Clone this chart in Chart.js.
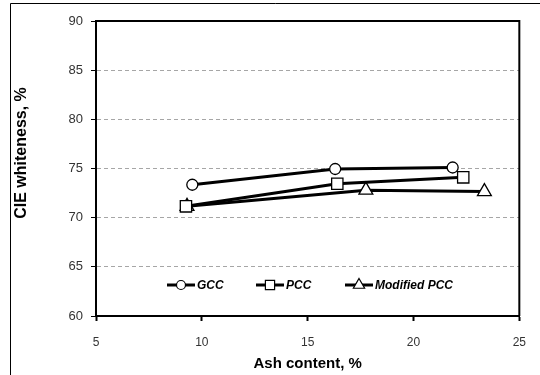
<!DOCTYPE html>
<html>
<head>
<meta charset="utf-8">
<script src="https://cdn.jsdelivr.net/npm/chart.js@4"></script>
<style>
  html, body { margin: 0; padding: 0; background: #fff; }
  #wrap { width: 540px; height: 375px; position: relative; }
</style>
</head>
<body>
<div id="wrap"><canvas id="chart"></canvas></div>
<script>
// Data
const seriesNames = ['GCC', 'PCC', 'Modified PCC'];
const gccAsh = [9.55, 16.3, 21.85];
const gccWhite = [73.35, 74.95, 75.1];
const pccAsh = [9.25, 16.4, 22.35];
const pccWhite = [71.15, 73.45, 74.1];
const modAsh = [9.3, 17.75, 23.35];
const modWhite = [71.15, 72.8, 72.65];
const xTicks = [5, 10, 15, 20, 25];
const yTicks = [60, 65, 70, 75, 80, 85, 90];
const xTitle = 'Ash content, %';
const yTitle = 'CIE whiteness, %';

const toPoints = (xs, ys) => xs.map((x, i) => ({ x, y: ys[i] }));

const markers = [
  { style: 'circle', radius: 5.5, legendRadius: 4.5 },
  { style: 'rect', radius: 8, legendRadius: 6.5 },
  { style: 'triangle', radius: 8, legendRadius: 6.5 },
];

const makeDataset = (label, pts, m) => ({
  label,
  data: pts,
  borderColor: '#000',
  borderWidth: 3,
  backgroundColor: '#fff',
  pointStyle: m.style,
  pointRadius: m.radius,
  pointBorderWidth: 1.3,
  pointBorderColor: '#000',
  pointBackgroundColor: '#fff',
  tension: 0,
});

// frame, plot box, y title and in-plot legend
const decorations = {
  id: 'decorations',
  beforeDraw(chart) {
    const { ctx } = chart;
    ctx.save();
    ctx.fillStyle = '#fff';
    ctx.fillRect(0, 0, chart.width, chart.height);
    ctx.strokeStyle = '#000';
    ctx.lineWidth = 1;
    ctx.beginPath();
    ctx.moveTo(10.5, chart.height);
    ctx.lineTo(10.5, 3.5);
    ctx.lineTo(chart.width, 3.5);
    ctx.stroke();
    ctx.restore();
  },
  afterDraw(chart) {
    const { ctx, chartArea: a } = chart;
    ctx.save();
    // top and right edges of plot box
    ctx.strokeStyle = '#000';
    ctx.lineWidth = 2;
    ctx.beginPath();
    ctx.moveTo(a.left, a.top);
    ctx.lineTo(a.right, a.top);
    ctx.lineTo(a.right, a.bottom);
    ctx.stroke();

    // y axis title
    ctx.translate(22, 153);
    ctx.rotate(-Math.PI / 2);
    ctx.fillStyle = '#000';
    ctx.font = 'bold 16px "Liberation Sans", Arial, sans-serif';
    ctx.textAlign = 'center';
    ctx.textBaseline = 'middle';
    ctx.fillText(yTitle, 0, 0);
    ctx.restore();

    // legend inside the plot
    const legendY = 285;
    const starts = [167, 256, 345];
    ctx.save();
    ctx.font = 'italic bold 12px "Liberation Sans", Arial, sans-serif';
    ctx.textBaseline = 'middle';
    ctx.textAlign = 'left';
    chart.data.datasets.forEach((ds, i) => {
      const x0 = starts[i];
      ctx.strokeStyle = '#000';
      ctx.lineWidth = 3;
      ctx.beginPath();
      ctx.moveTo(x0, legendY);
      ctx.lineTo(x0 + 28, legendY);
      ctx.stroke();
      ctx.fillStyle = '#fff';
      ctx.strokeStyle = '#000';
      ctx.lineWidth = 1.2;
      Chart.helpers.drawPoint(ctx, {
        pointStyle: markers[i].style,
        radius: markers[i].legendRadius,
        borderWidth: 1.2,
      }, x0 + 14, legendY);
      ctx.fillStyle = '#000';
      ctx.fillText(ds.label, x0 + 30, legendY + 1);
    });
    ctx.restore();
  },
};

const ctx = document.getElementById('chart').getContext('2d');
const chart = new Chart(ctx, {
  type: 'line',
  data: {
    datasets: [
      makeDataset(seriesNames[0], toPoints(gccAsh, gccWhite), markers[0]),
      makeDataset(seriesNames[1], toPoints(pccAsh, pccWhite), markers[1]),
      makeDataset(seriesNames[2], toPoints(modAsh, modWhite), markers[2]),
    ],
  },
  options: {
    responsive: true,
    maintainAspectRatio: false,
    animation: false,
    layout: { padding: { left: 0, top: 21, right: 20, bottom: 0 } },
    plugins: {
      legend: { display: false },
      tooltip: { enabled: false },
    },
    scales: {
      x: {
        type: 'linear',
        min: xTicks[0],
        max: xTicks[xTicks.length - 1],
        afterBuildTicks: (scale) => { scale.ticks = xTicks.map((v) => ({ value: v })); },
        afterFit: (scale) => { scale.height = 59; },
        border: { display: true, color: '#000', width: 2 },
        grid: {
          drawOnChartArea: false,
          tickLength: 5,
          tickColor: '#000',
          tickWidth: 2,
        },
        ticks: {
          padding: 14,
          color: '#333',
          font: { family: '"Liberation Sans", Arial, sans-serif', size: 12 },
        },
        title: {
          display: true,
          text: xTitle,
          color: '#000',
          padding: { top: 0, bottom: 2 },
          font: { family: '"Liberation Sans", Arial, sans-serif', size: 15, weight: 'bold' },
        },
      },
      y: {
        type: 'linear',
        min: yTicks[0],
        max: yTicks[yTicks.length - 1],
        afterBuildTicks: (scale) => { scale.ticks = yTicks.map((v) => ({ value: v })); },
        afterFit: (scale) => { scale.width = 96; },
        border: { display: true, color: '#000', width: 2, dash: [4, 3] },
        grid: {
          color: (c) => (c.tick && (c.tick.value === 60 || c.tick.value === 90) ? 'rgba(0,0,0,0)' : '#a6a6a6'),
          lineWidth: 1,
          tickLength: 5,
          tickColor: '#000',
          tickWidth: 1,
          tickBorderDash: [1, 0],
        },
        ticks: {
          padding: 8,
          color: '#333',
          font: { family: '"Liberation Sans", Arial, sans-serif', size: 13 },
        },
      },
    },
  },
  plugins: [decorations],
});
</script>
</body>
</html>
